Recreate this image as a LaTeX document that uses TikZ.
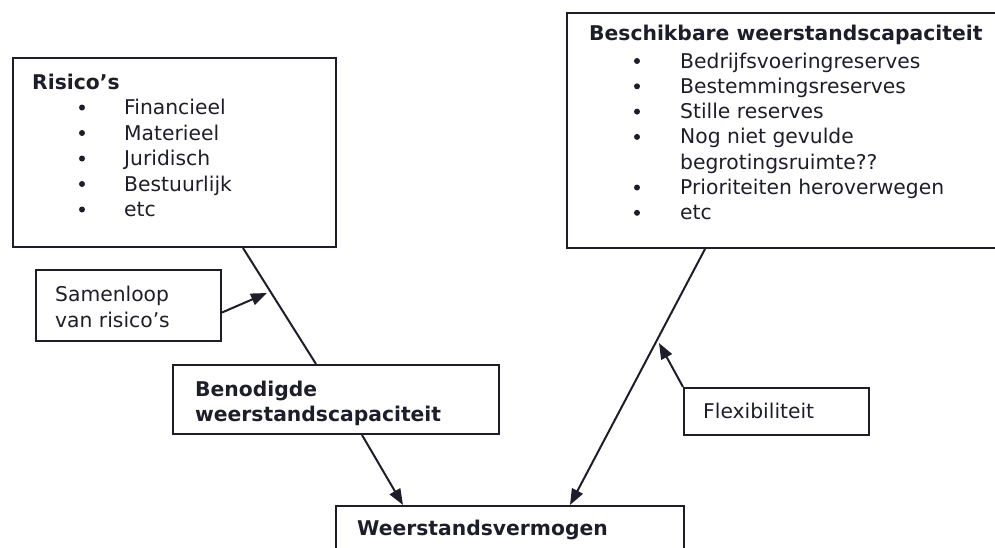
\documentclass[tikz,border=0pt]{standalone}
\usepackage{fontspec}
\setmainfont{DejaVu Sans}
\usetikzlibrary{arrows.meta}
\definecolor{ink}{RGB}{30,30,42}

\begin{document}
\begin{tikzpicture}[x=1pt,y=-1pt,
        box/.style={draw=ink,line width=2pt,rectangle,inner sep=0pt,anchor=north west},
        txt/.style={text=ink,inner sep=0pt,anchor=base west,font=\fontsize{20.3}{25.5}\selectfont},
        ttl/.style={txt,font=\fontsize{20.3}{25.5}\selectfont\bfseries},
        bul/.style={circle,fill=ink,inner sep=0pt,minimum size=6pt},
        lijn/.style={draw=ink,line width=2pt},
        arr/.style={lijn,-{Triangle[length=16pt,width=12pt]}}]
        \useasboundingbox (0,0) rectangle (995,547);
        \clip (0,0) rectangle (995,547);
        \node [box,minimum width=323pt,minimum height=189pt] (risico) at (12,57) {};
        \node [box,minimum width=439pt,minimum height=235pt] (beschik) at (566,12) {};
        \node [box,minimum width=185pt,minimum height=71pt] (samen) at (35,269) {};
        \node [box,minimum width=326pt,minimum height=69pt] (beno) at (172,364) {};
        \node [box,minimum width=185pt,minimum height=47pt] (flexi) at (683,387) {};
        \node [box,minimum width=348pt,minimum height=60pt] (weerst) at (335,505) {};
        \node [ttl] (risicot) at (32,89) {Risico’s};
        \foreach \t [count=\i] in {Financieel,Materieel,Juridisch,Bestuurlijk,etc}{
            \node [bul] (risb\i) at (82,82+25.5*\i) {};
            \node [txt] (risi\i) at (124,89+25.5*\i) {\t};
        }
        \node [ttl] (beschikt) at (589,40) {Beschikbare weerstandscapaciteit};
        \foreach \b/\t [count=\i] in {1/Bedrijfsvoeringreserves,1/Bestemmingsreserves,1/Stille reserves,1/Nog niet gevulde,0/begrotingsruimte??,1/Prioriteiten heroverwegen,1/etc}{
            \ifnum\b=1 \node [bul] (besb\i) at (637,35.7+25.3*\i) {}; \fi
            \node [txt] (besi\i) at (680,42.7+25.3*\i) {\t};
        }
        \node [txt] (samen1) at (55,301) {Samenloop};
        \node [txt] (samen2) at (55,327) {van risico’s};
        \node [ttl] (beno1) at (195,396) {Benodigde};
        \node [ttl] (beno2) at (195,421) {weerstandscapaciteit};
        \node [txt] (flexit) at (703,418) {Flexibiliteit};
        \node [ttl] (weerstt) at (357,535) {Weerstandsvermogen};
        \coordinate (samentip) at (267,293);
        \coordinate (flexitip) at (659,343);
        \draw [lijn] ([xshift=231pt]risico.south west) -- ([xshift=144pt]beno.north west);
        \draw [arr] ([yshift=-7pt]samen.east) -- (samentip);
        \draw [arr] ([xshift=190pt]beno.south west) -- ([xshift=68pt]weerst.north west);
        \draw [arr] ([xshift=139pt]beschik.south west) -- ([xshift=235pt]weerst.north west);
        \draw [arr] (flexi.north west) -- (flexitip);
    \end{tikzpicture}
\end{document}
